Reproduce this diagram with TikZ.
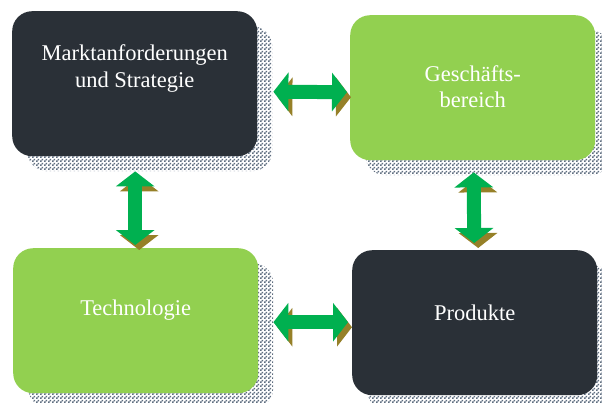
\documentclass[tikz,border=0pt]{standalone}
\usepackage{fontspec}
\setmainfont{Liberation Serif}
\usepackage{xcolor}
\usepackage{tikz}
\usetikzlibrary{arrows.meta}
\usetikzlibrary{patterns}
\usetikzlibrary{shadows}
\definecolor{dunkelgrau}{RGB}{42,48,55}
\definecolor{hellgruen}{RGB}{146,208,80}
\definecolor{pfeilgruen}{RGB}{0,176,80}
\definecolor{schatten}{RGB}{95,110,128}
\definecolor{olivschatten}{RGB}{150,128,40}
\pgfdeclarepatternformonly{feinschach}{\pgfpointorigin}{\pgfqpoint{4pt}{4pt}}{\pgfqpoint{4pt}{4pt}}{
  \pgfpathrectangle{\pgfpointorigin}{\pgfqpoint{2pt}{2pt}}
  \pgfpathrectangle{\pgfqpoint{2pt}{2pt}}{\pgfqpoint{2pt}{2pt}}
  \pgfusepath{fill}
}
\tikzset{
  kasten/.style={rounded corners=20pt, minimum width=245pt, minimum height=145pt,
    anchor=north west, inner sep=0pt,
    general shadow={shadow xshift=15pt, shadow yshift=-15pt, pattern=feinschach, pattern color=schatten}},
  dunkel/.style={kasten, fill=dunkelgrau},
  hell/.style={kasten, fill=hellgruen},
  schrift/.style={text=white, font=\fontsize{22.5}{26.5}\selectfont, align=center, inner sep=0pt},
  pfeil/.style={line width=14pt, draw=pfeilgruen,
    {Triangle[length=15pt,width=38pt]}-{Triangle[length=15pt,width=38pt]},
    preaction={draw=olivschatten, transform canvas={shift={(4pt,-5pt)}}}}
}
\begin{document}
\begin{tikzpicture}[x=1pt,y=-1pt]
    \clip (0,0) rectangle (602,402);
    \fill[white] (0,0) rectangle (602,402);
    \node[dunkel] (mkt) at (12,11) {};
    \node[hell] (ges) at (350,15) {};
    \node[hell] (tec) at (13,248) {};
    \node[dunkel] (pro) at (352,250) {};
    \node[schrift] (mkttext) at ([yshift=15pt]mkt.center) {Marktanforderungen\\und Strategie};
    \node[schrift] (gestext) at ([yshift=1pt]ges.center) {Geschäfts-\\bereich};
    \node[schrift] (tectext) at ([yshift=11pt]tec.center) {Technologie};
    \node[schrift] (protext) at ([yshift=10pt]pro.center) {Produkte};
    \draw[pfeil] ([xshift=16pt,yshift=-8pt]mkt.east) -- ([xshift=-3pt,yshift=-4.5pt]ges.west);
    \draw[pfeil] ([xshift=15pt,yshift=-1.5pt]tec.east) -- ([xshift=-4pt,yshift=0.5pt]pro.west);
    \draw[pfeil] ([xshift=0.5pt,yshift=-15pt]mkt.south) -- ([xshift=-0.5pt,yshift=3pt]tec.north);
    \draw[pfeil] ([xshift=1pt,yshift=-12pt]ges.south) -- ([xshift=-0.5pt,yshift=7pt]pro.north);
\end{tikzpicture}
\end{document}
